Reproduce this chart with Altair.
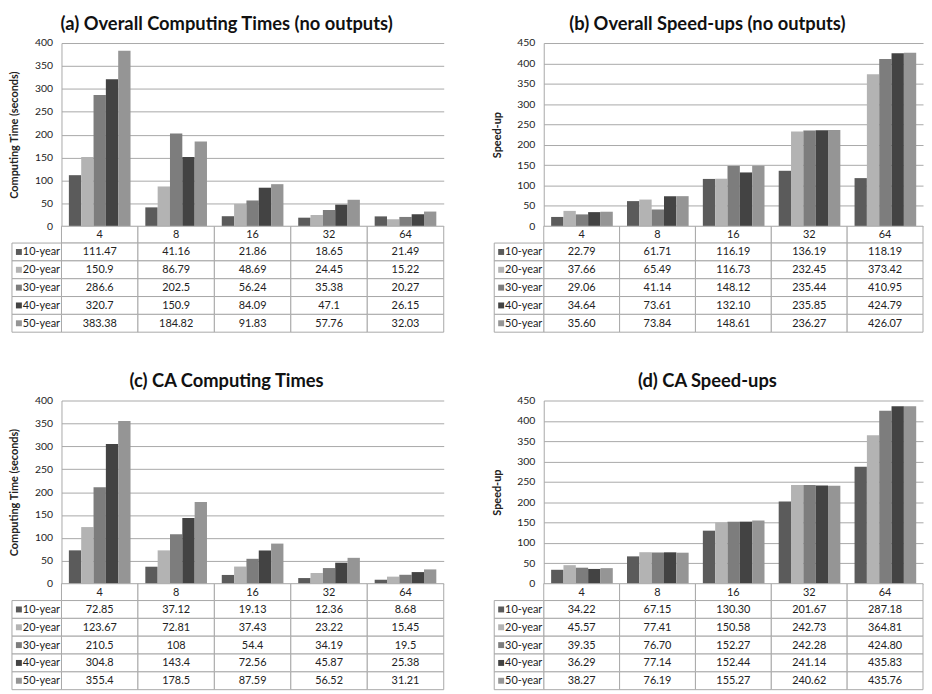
import altair as alt
import pandas as pd

# ---------------- data ----------------
procs = ["4", "8", "16", "32", "64"]
series = ["10-year", "20-year", "30-year", "40-year", "50-year"]
shades = ["#5b5b5b", "#b3b3b3", "#7d7d7d", "#434343", "#959595"]

# (a) Overall Computing Times (no outputs)
a_10 = [111.47, 41.16, 21.86, 18.65, 21.49]
a_20 = [150.9, 86.79, 48.69, 24.45, 15.22]
a_30 = [286.6, 202.5, 56.24, 35.38, 20.27]
a_40 = [320.7, 150.9, 84.09, 47.1, 26.15]
a_50 = [383.38, 184.82, 91.83, 57.76, 32.03]

# (b) Overall Speed-ups (no outputs)
b_10 = [22.79, 61.71, 116.19, 136.19, 118.19]
b_20 = [37.66, 65.49, 116.73, 232.45, 373.42]
b_30 = [29.06, 41.14, 148.12, 235.44, 410.95]
b_40 = [34.64, 73.61, 132.10, 235.85, 424.79]
b_50 = [35.60, 73.84, 148.61, 236.27, 426.07]

# (c) CA Computing Times
c_10 = [72.85, 37.12, 19.13, 12.36, 8.68]
c_20 = [123.67, 72.81, 37.43, 23.22, 15.45]
c_30 = [210.5, 108, 54.4, 34.19, 19.5]
c_40 = [304.8, 143.4, 72.56, 45.87, 25.38]
c_50 = [355.4, 178.5, 87.59, 56.52, 31.21]

# (d) CA Speed-ups
d_10 = [34.22, 67.15, 130.30, 201.67, 287.18]
d_20 = [45.57, 77.41, 150.58, 242.73, 364.81]
d_30 = [39.35, 76.70, 152.27, 242.28, 424.80]
d_40 = [36.29, 77.14, 152.44, 241.14, 435.83]
d_50 = [38.27, 76.19, 155.27, 240.62, 435.76]

# ---------------- styling / layout ----------------
FONT = "Lato"
TXT = "#222222"
GRID = "#a8a8a8"
H = 185      # plot height
HDR = 17     # header row height
RH = 18      # table row height
LEG = 50     # legend column width


def make_df(cols):
    rows = []
    for i, s in enumerate(series):
        for j, p in enumerate(procs):
            rows.append({"proc": p, "series": s, "value": cols[i][j]})
    return pd.DataFrame(rows)


def panel(title, ytitle, ymax, cols, decimals, W):
    df = make_df(cols)
    lbl_expr = "format(datum.value, '.2f')" if decimals else "'' + datum.value"
    xenc = alt.X("proc:N", sort=procs,
                 scale=alt.Scale(domain=procs, paddingInner=0, paddingOuter=0),
                 axis=None)
    layers = []
    bars = alt.Chart(df).mark_bar().encode(
        x=xenc,
        xOffset=alt.XOffset("series:N", sort=series,
                            scale=alt.Scale(domain=series, paddingInner=0, paddingOuter=0.6)),
        y=alt.Y("value:Q",
                scale=alt.Scale(domain=[0, ymax], nice=False),
                axis=alt.Axis(values=list(range(0, ymax + 1, 50)), title=ytitle,
                              titleX=-47, titleY=H / 2, titleAlign="center",
                              titleBaseline="middle", titleFont=FONT,
                              titleFontSize=11, titleFontWeight="bold",
                              titleColor=TXT, labelFont=FONT, labelFontSize=10.5,
                              labelColor=TXT, labelPadding=9, ticks=False,
                              domain=True, domainColor=GRID, gridColor=GRID,
                              grid=True)),
        color=alt.Color("series:N", scale=alt.Scale(domain=series, range=shades),
                        legend=None),
    )
    layers.append(bars)

    hdr = alt.Chart(pd.DataFrame({"proc": procs}))
    layers.append(hdr.mark_rect(fill="white", stroke=GRID, strokeWidth=1).encode(
        x=xenc, y=alt.value(H), y2=alt.value(H + HDR)))
    layers.append(hdr.mark_text(font=FONT, fontSize=11, color=TXT, baseline="middle").encode(
        x=xenc, y=alt.value(H + HDR / 2 + 0.5), text="proc:N"))

    for i, s in enumerate(series):
        top = H + HDR + i * RH
        rowc = alt.Chart(df).transform_filter(alt.datum.series == s).transform_calculate(lbl=lbl_expr)
        layers.append(rowc.mark_rect(fill="white", stroke=GRID, strokeWidth=1).encode(
            x=xenc, y=alt.value(top), y2=alt.value(top + RH)))
        layers.append(rowc.mark_text(font=FONT, fontSize=11, color=TXT, baseline="middle").encode(
            x=xenc, y=alt.value(top + RH / 2 + 0.5), text="lbl:N"))
        leg = alt.Chart(pd.DataFrame({"series": [s]}))
        layers.append(leg.mark_rect(fill="white", stroke=GRID, strokeWidth=1).encode(
            x=alt.value(-LEG), x2=alt.value(0), y=alt.value(top), y2=alt.value(top + RH)))
        layers.append(leg.mark_square(size=36, color=shades[i], opacity=1).encode(
            x=alt.value(-LEG + 7), y=alt.value(top + RH / 2)))
        layers.append(leg.mark_text(font=FONT, fontSize=11, color=TXT, align="left",
                                    baseline="middle").encode(
            x=alt.value(-LEG + 11), y=alt.value(top + RH / 2 + 0.5), text="series:N"))

    return alt.layer(*layers).properties(
        width=W, height=H,
        title=alt.TitleParams(text=title, font=FONT, fontSize=18.5, fontWeight="bold",
                              anchor="middle", frame="bounds", offset=5, color="#111111"),
    )


pa = panel("(a) Overall Computing Times (no outputs)", "Computing Time (seconds)", 400,
           [a_10, a_20, a_30, a_40, a_50], False, 386)
pb = panel("(b) Overall Speed-ups (no outputs)", "Speed-up", 450,
           [b_10, b_20, b_30, b_40, b_50], True, 383)
pc = panel("(c) CA Computing Times", "Computing Time (seconds)", 400,
           [c_10, c_20, c_30, c_40, c_50], False, 386)
pd_ = panel("(d) CA Speed-ups", "Speed-up", 450,
            [d_10, d_20, d_30, d_40, d_50], True, 383)

top_row = alt.hconcat(pa, pb, spacing=47)
bot_row = alt.hconcat(pc, pd_, spacing=47)

chart = alt.vconcat(top_row, bot_row, spacing=39).properties(
    padding={"left": 1, "top": 3, "right": 0, "bottom": 0},
    background="white",
).configure_view(strokeWidth=0)

chart.save("out.html", embed_options={"renderer": "svg", "actions": False})
